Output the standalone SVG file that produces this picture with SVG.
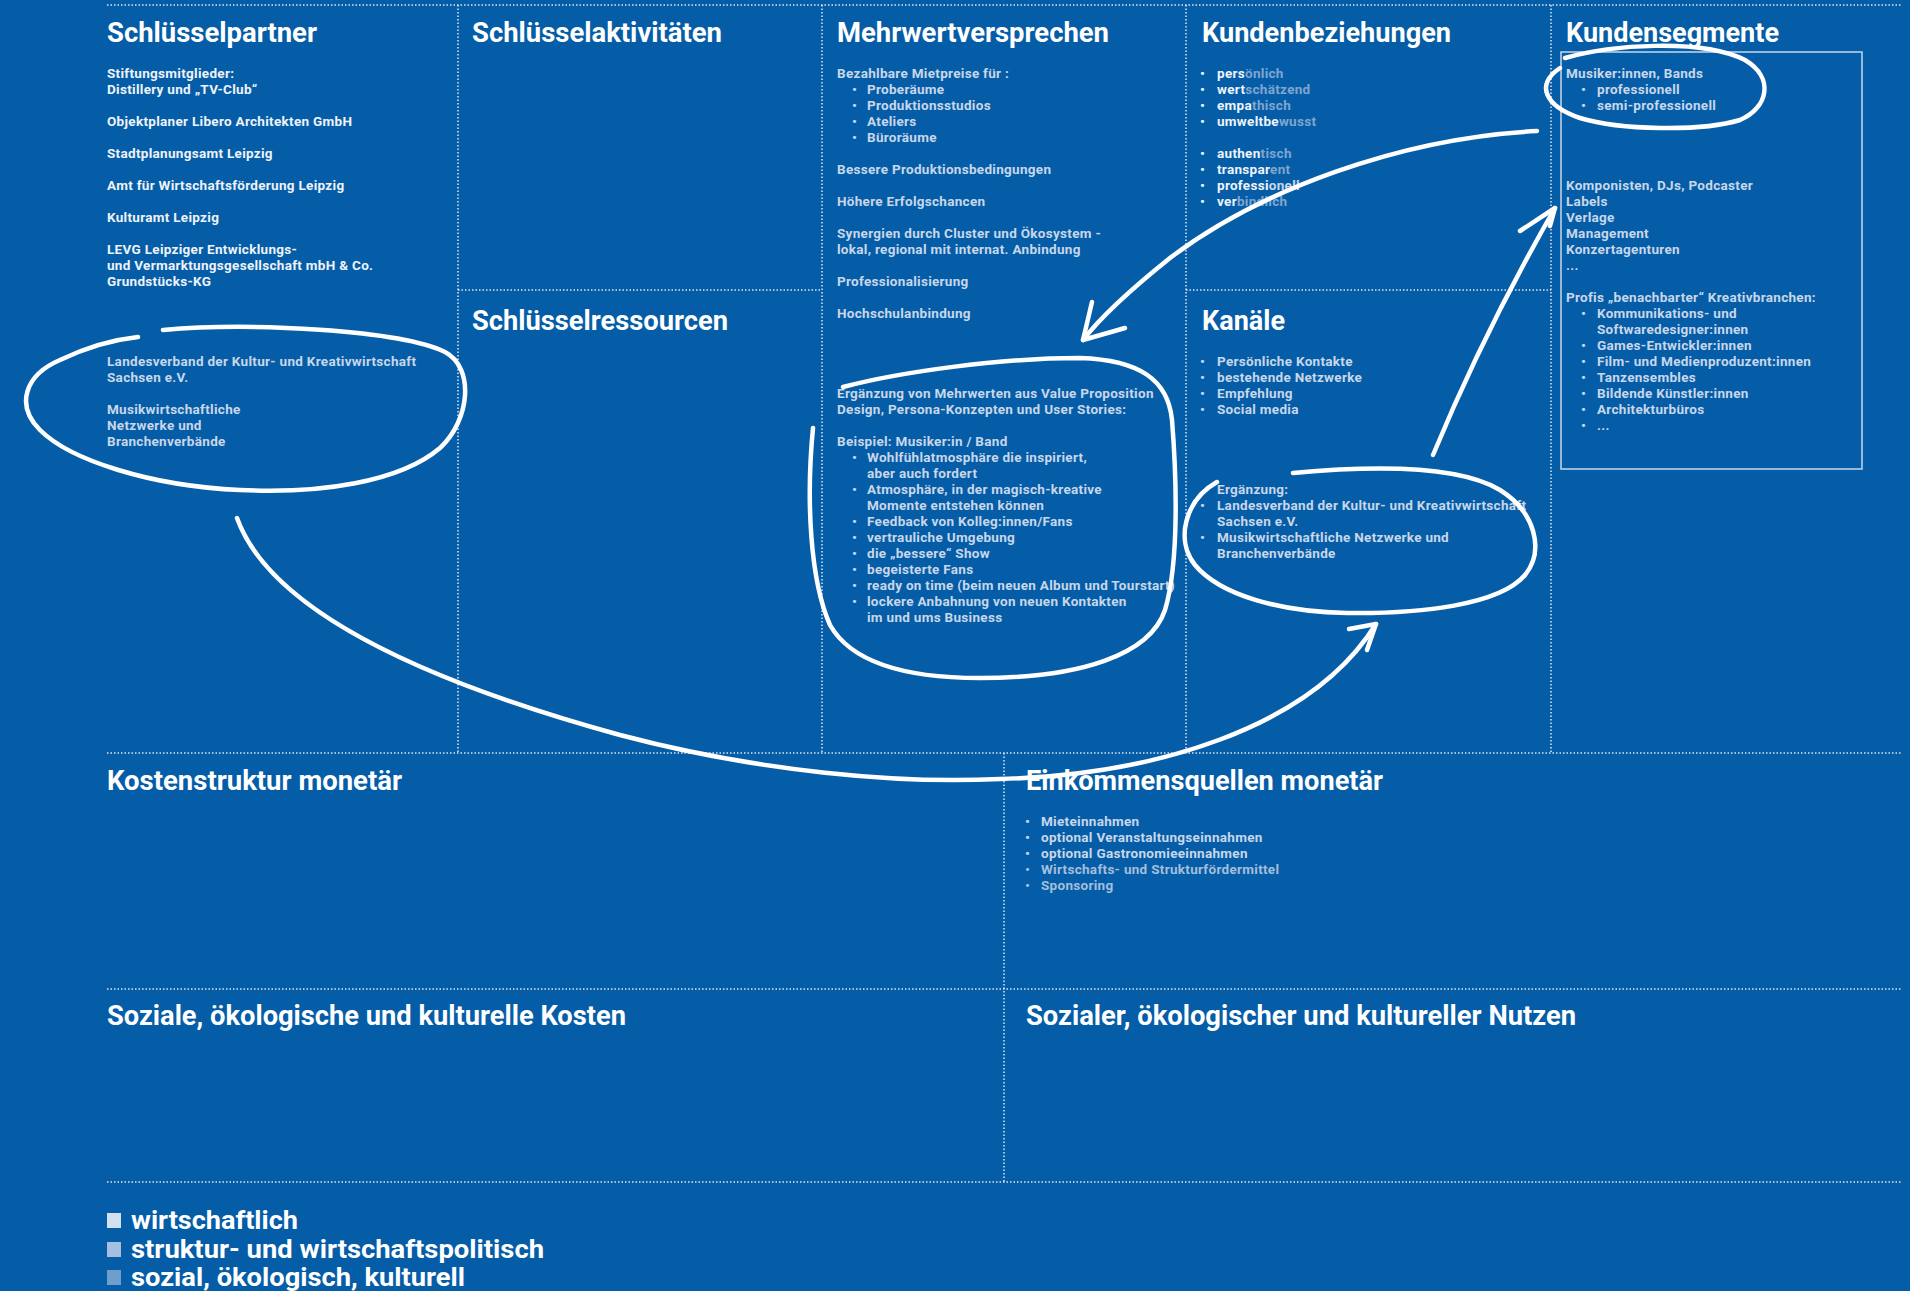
<svg xmlns="http://www.w3.org/2000/svg" width="1910" height="1291" viewBox="0 0 1910 1291">
  <style>
    .grid { stroke: #ffffff; stroke-opacity: 0.85; stroke-width: 1.5; stroke-dasharray: 1.5 2; fill: none; }
    .h { font-family: Roboto, "Liberation Sans", sans-serif; font-weight: 700; font-size: 28px; fill: #ffffff; }
    .b { font-family: Roboto, "Liberation Sans", sans-serif; font-weight: 700; font-size: 13.5px; letter-spacing: 0.3px; }
    .lg { font-family: Roboto, "Liberation Sans", sans-serif; font-weight: 700; font-size: 25px; fill: #ffffff; }
    .t1 { fill: #eef3f9; }
    .t2 { fill: #c8d7ea; }
    .t3 { fill: #a3bfdd; }
    .t4 { fill: #7fa6d1; }
    .brush { fill: none; stroke: #ffffff; stroke-width: 4.5; stroke-linecap: round; stroke-linejoin: round; }
  </style>

  <rect x="0" y="0" width="1910" height="1291" fill="#065da7"/>

  <!-- canvas grid -->
  <g id="grid">
    <line class="grid" x1="107" y1="5" x2="1902" y2="5"/>
    <line class="grid" x1="458" y1="5" x2="458" y2="753"/>
    <line class="grid" x1="822" y1="5" x2="822" y2="753"/>
    <line class="grid" x1="1186" y1="5" x2="1186" y2="753"/>
    <line class="grid" x1="1551" y1="5" x2="1551" y2="753"/>
    <line class="grid" x1="458" y1="290" x2="822" y2="290"/>
    <line class="grid" x1="1186" y1="290" x2="1551" y2="290"/>
    <line class="grid" x1="107" y1="753" x2="1902" y2="753"/>
    <line class="grid" x1="1004" y1="753" x2="1004" y2="1182"/>
    <line class="grid" x1="107" y1="989" x2="1902" y2="989"/>
    <line class="grid" x1="107" y1="1182" x2="1902" y2="1182"/>
  </g>

  <!-- Schlüsselpartner -->
  <g id="key-partners">
    <text class="h" x="107" y="42" textLength="210" lengthAdjust="spacingAndGlyphs">Schlüsselpartner</text>
    <g class="b t1">
      <text x="107" y="77.5">Stiftungsmitglieder:</text>
      <text x="107" y="93.5">Distillery und „TV-Club“</text>
      <text x="107" y="125.5">Objektplaner Libero Architekten GmbH</text>
      <text x="107" y="157.5">Stadtplanungsamt Leipzig</text>
      <text x="107" y="189.5">Amt für Wirtschaftsförderung Leipzig</text>
      <text x="107" y="221.5">Kulturamt Leipzig</text>
      <text x="107" y="253.5">LEVG Leipziger Entwicklungs-</text>
      <text x="107" y="269.5">und Vermarktungsgesellschaft mbH &amp; Co.</text>
      <text x="107" y="285.5">Grundstücks-KG</text>
    </g>
    <g class="b t2">
      <text x="107" y="365.5">Landesverband der Kultur- und Kreativwirtschaft</text>
      <text x="107" y="381.5">Sachsen e.V.</text>
      <text x="107" y="413.5">Musikwirtschaftliche</text>
      <text x="107" y="429.5">Netzwerke und</text>
      <text x="107" y="445.5">Branchenverbände</text>
    </g>
  </g>

  <!-- Schlüsselaktivitäten -->
  <g id="key-activities">
    <text class="h" x="472" y="42" textLength="250" lengthAdjust="spacingAndGlyphs">Schlüsselaktivitäten</text>
  </g>

  <!-- Schlüsselressourcen -->
  <g id="key-resources">
    <text class="h" x="472" y="329.5" textLength="256" lengthAdjust="spacingAndGlyphs">Schlüsselressourcen</text>
  </g>

  <!-- Mehrwertversprechen -->
  <g id="value-propositions">
    <text class="h" x="837" y="42" textLength="272" lengthAdjust="spacingAndGlyphs">Mehrwertversprechen</text>
    <g class="b t2">
      <text x="837" y="77.5">Bezahlbare Mietpreise für :</text>
      <text y="93.5"><tspan x="852">•</tspan><tspan x="867">Proberäume</tspan></text>
      <text y="109.5"><tspan x="852">•</tspan><tspan x="867">Produktionsstudios</tspan></text>
      <text y="125.5"><tspan x="852">•</tspan><tspan x="867">Ateliers</tspan></text>
      <text y="141.5"><tspan x="852">•</tspan><tspan x="867">Büroräume</tspan></text>
      <text x="837" y="173.5">Bessere Produktionsbedingungen</text>
      <text x="837" y="205.5">Höhere Erfolgschancen</text>
      <text x="837" y="237.5">Synergien durch Cluster und Ökosystem -</text>
      <text x="837" y="253.5">lokal, regional mit internat. Anbindung</text>
      <text x="837" y="285.5">Professionalisierung</text>
      <text x="837" y="317.5">Hochschulanbindung</text>
      <text x="837" y="397.5">Ergänzung von Mehrwerten aus Value Proposition</text>
      <text x="837" y="413.5">Design, Persona-Konzepten und User Stories:</text>
      <text x="837" y="445.5">Beispiel: Musiker:in / Band</text>
      <text y="461.5"><tspan x="852">•</tspan><tspan x="867">Wohlfühlatmosphäre die inspiriert,</tspan></text>
      <text x="867" y="477.5">aber auch fordert</text>
      <text y="493.5"><tspan x="852">•</tspan><tspan x="867">Atmosphäre, in der magisch-kreative</tspan></text>
      <text x="867" y="509.5">Momente entstehen können</text>
      <text y="525.5"><tspan x="852">•</tspan><tspan x="867">Feedback von Kolleg:innen/Fans</tspan></text>
      <text y="541.5"><tspan x="852">•</tspan><tspan x="867">vertrauliche Umgebung</tspan></text>
      <text y="557.5"><tspan x="852">•</tspan><tspan x="867">die „bessere“ Show</tspan></text>
      <text y="573.5"><tspan x="852">•</tspan><tspan x="867">begeisterte Fans</tspan></text>
      <text y="589.5"><tspan x="852">•</tspan><tspan x="867">ready on time (beim neuen Album und Tourstart)</tspan></text>
      <text y="605.5"><tspan x="852">•</tspan><tspan x="867">lockere Anbahnung von neuen Kontakten</tspan></text>
      <text x="867" y="621.5">im und ums Business</text>
    </g>
  </g>

  <!-- Kundenbeziehungen -->
  <g id="customer-relationships">
    <text class="h" x="1202" y="42" textLength="249" lengthAdjust="spacingAndGlyphs">Kundenbeziehungen</text>
    <g class="b">
      <text y="77.5"><tspan class="t1" x="1200">•</tspan><tspan class="t1" x="1217">pers</tspan><tspan class="t4">önlich</tspan></text>
      <text y="93.5"><tspan class="t1" x="1200">•</tspan><tspan class="t1" x="1217">wert</tspan><tspan class="t4">schätzend</tspan></text>
      <text y="109.5"><tspan class="t1" x="1200">•</tspan><tspan class="t1" x="1217">empa</tspan><tspan class="t4">thisch</tspan></text>
      <text y="125.5"><tspan class="t1" x="1200">•</tspan><tspan class="t1" x="1217">umweltbe</tspan><tspan class="t4">wusst</tspan></text>
      <text y="157.5"><tspan class="t1" x="1200">•</tspan><tspan class="t1" x="1217">authen</tspan><tspan class="t4">tisch</tspan></text>
      <text y="173.5"><tspan class="t1" x="1200">•</tspan><tspan class="t1" x="1217">transpar</tspan><tspan class="t4">ent</tspan></text>
      <text y="189.5"><tspan class="t1" x="1200">•</tspan><tspan class="t1" x="1217">professi</tspan><tspan class="t2">onell</tspan></text>
      <text y="205.5"><tspan class="t1" x="1200">•</tspan><tspan class="t1" x="1217">ver</tspan><tspan class="t4">bindlich</tspan></text>
    </g>
  </g>

  <!-- Kanäle -->
  <g id="channels">
    <text class="h" x="1202" y="329.5" textLength="83" lengthAdjust="spacingAndGlyphs">Kanäle</text>
    <g class="b t2">
      <text y="365.5"><tspan x="1200">•</tspan><tspan x="1217">Persönliche Kontakte</tspan></text>
      <text y="381.5"><tspan x="1200">•</tspan><tspan x="1217">bestehende Netzwerke</tspan></text>
      <text y="397.5"><tspan x="1200">•</tspan><tspan x="1217">Empfehlung</tspan></text>
      <text y="413.5"><tspan x="1200">•</tspan><tspan x="1217">Social media</tspan></text>
      <text x="1217" y="493.5">Ergänzung:</text>
      <text y="509.5"><tspan x="1200">•</tspan><tspan x="1217">Landesverband der Kultur- und Kreativwirtschaft</tspan></text>
      <text x="1217" y="525.5">Sachsen e.V.</text>
      <text y="541.5"><tspan x="1200">•</tspan><tspan x="1217">Musikwirtschaftliche Netzwerke und</tspan></text>
      <text x="1217" y="557.5">Branchenverbände</text>
    </g>
  </g>

  <!-- Kundensegmente -->
  <g id="customer-segments">
    <text class="h" x="1566" y="42" textLength="213" lengthAdjust="spacingAndGlyphs">Kundensegmente</text>
    <rect x="1561" y="52" width="301" height="417" fill="none" stroke="#c8d7ea" stroke-width="1.5"/>
    <g class="b t2">
      <text x="1566" y="77.5">Musiker:innen, Bands</text>
      <text y="93.5"><tspan x="1581">•</tspan><tspan x="1597">professionell</tspan></text>
      <text y="109.5"><tspan x="1581">•</tspan><tspan x="1597">semi-professionell</tspan></text>
      <text x="1566" y="189.5">Komponisten, DJs, Podcaster</text>
      <text x="1566" y="205.5">Labels</text>
      <text x="1566" y="221.5">Verlage</text>
      <text x="1566" y="237.5">Management</text>
      <text x="1566" y="253.5">Konzertagenturen</text>
      <text x="1566" y="269.5">...</text>
      <text x="1566" y="301.5">Profis „benachbarter“ Kreativbranchen:</text>
      <text y="317.5"><tspan x="1581">•</tspan><tspan x="1597">Kommunikations- und</tspan></text>
      <text x="1597" y="333.5">Softwaredesigner:innen</text>
      <text y="349.5"><tspan x="1581">•</tspan><tspan x="1597">Games-Entwickler:innen</tspan></text>
      <text y="365.5"><tspan x="1581">•</tspan><tspan x="1597">Film- und Medienproduzent:innen</tspan></text>
      <text y="381.5"><tspan x="1581">•</tspan><tspan x="1597">Tanzensembles</tspan></text>
      <text y="397.5"><tspan x="1581">•</tspan><tspan x="1597">Bildende Künstler:innen</tspan></text>
      <text y="413.5"><tspan x="1581">•</tspan><tspan x="1597">Architekturbüros</tspan></text>
      <text y="429.5"><tspan x="1581">•</tspan><tspan x="1597">...</tspan></text>
    </g>
  </g>

  <!-- Kostenstruktur monetär -->
  <g id="cost-structure">
    <text class="h" x="107" y="790" textLength="295" lengthAdjust="spacingAndGlyphs">Kostenstruktur monetär</text>
  </g>

  <!-- Einkommensquellen monetär -->
  <g id="revenue-streams">
    <text class="h" x="1026" y="790" textLength="357" lengthAdjust="spacingAndGlyphs">Einkommensquellen monetär</text>
    <g class="b">
      <text class="t2" y="825.5"><tspan x="1025">•</tspan><tspan x="1041">Mieteinnahmen</tspan></text>
      <text class="t2" y="841.5"><tspan x="1025">•</tspan><tspan x="1041">optional Veranstaltungseinnahmen</tspan></text>
      <text class="t2" y="857.5"><tspan x="1025">•</tspan><tspan x="1041">optional Gastronomieeinnahmen</tspan></text>
      <text class="t3" y="873.5"><tspan x="1025">•</tspan><tspan x="1041">Wirtschafts- und Strukturfördermittel</tspan></text>
      <text class="t3" y="889.5"><tspan x="1025">•</tspan><tspan x="1041">Sponsoring</tspan></text>
    </g>
  </g>

  <!-- Soziale, ökologische und kulturelle Kosten -->
  <g id="social-costs">
    <text class="h" x="107" y="1025" textLength="519" lengthAdjust="spacingAndGlyphs">Soziale, ökologische und kulturelle Kosten</text>
  </g>

  <!-- Sozialer, ökologischer und kultureller Nutzen -->
  <g id="social-benefits">
    <text class="h" x="1026" y="1025" textLength="550" lengthAdjust="spacingAndGlyphs">Sozialer, ökologischer und kultureller Nutzen</text>
  </g>

  <!-- legend -->
  <g id="legend">
    <rect x="107" y="1213" width="14" height="15" fill="#d3e0ee"/>
    <rect x="107" y="1242" width="14" height="15" fill="#a5c0de"/>
    <rect x="107" y="1270" width="14" height="15" fill="#6f9ecd"/>
    <text class="lg" x="131" y="1228.5" textLength="167" lengthAdjust="spacingAndGlyphs">wirtschaftlich</text>
    <text class="lg" x="131" y="1257.5" textLength="413" lengthAdjust="spacingAndGlyphs">struktur- und wirtschaftspolitisch</text>
    <text class="lg" x="131" y="1285.5" textLength="334" lengthAdjust="spacingAndGlyphs">sozial, ökologisch, kulturell</text>
  </g>

  <!-- hand-drawn highlights and arrows -->
  <g id="connectors" class="brush">
    <!-- loop round the associations in Schlüsselpartner -->
    <path d="M163,330 C250,322 400,330 445,352 C475,368 470,420 440,448 C400,482 320,494 240,490 C150,486 70,460 40,430 C15,405 25,375 60,360 C85,348 110,340 138,337"/>
    <!-- loop round Musiker:innen, Bands -->
    <path d="M1565,58 C1610,45 1700,38 1745,60 C1775,78 1768,108 1740,120 C1700,132 1620,130 1580,118 C1545,106 1535,85 1560,68"/>
    <!-- loop round the added value examples -->
    <path d="M843,387 C900,372 1000,358 1080,358 C1140,360 1168,380 1172,420 C1176,470 1180,560 1165,610 C1150,655 1080,678 980,678 C900,678 850,660 830,625 C810,580 806,500 813,428"/>
    <!-- loop round the added channels -->
    <path d="M1293,473 C1380,465 1460,466 1500,490 C1535,512 1545,550 1525,575 C1500,605 1420,614 1347,613 C1280,612 1220,595 1195,565 C1175,540 1185,500 1217,482"/>
    <!-- Kundensegmente to Mehrwertversprechen -->
    <path d="M1537,131 C1400,138 1260,190 1170,258 C1130,290 1100,318 1083,340"/>
    <path d="M1092,302 L1083,340 L1125,328"/>
    <!-- Kanäle loop to Kundensegmente -->
    <path d="M1433,455 Q1485,330 1555,208"/>
    <path d="M1520,231 L1555,208 L1550,226"/>
    <!-- Schlüsselpartner loop to Kanäle loop -->
    <path d="M237,518 C270,610 420,680 620,735 C760,772 900,784 1000,779 C1150,775 1310,730 1376,624"/>
    <path d="M1349,629 L1376,624 L1367,650"/>
  </g>
</svg>
